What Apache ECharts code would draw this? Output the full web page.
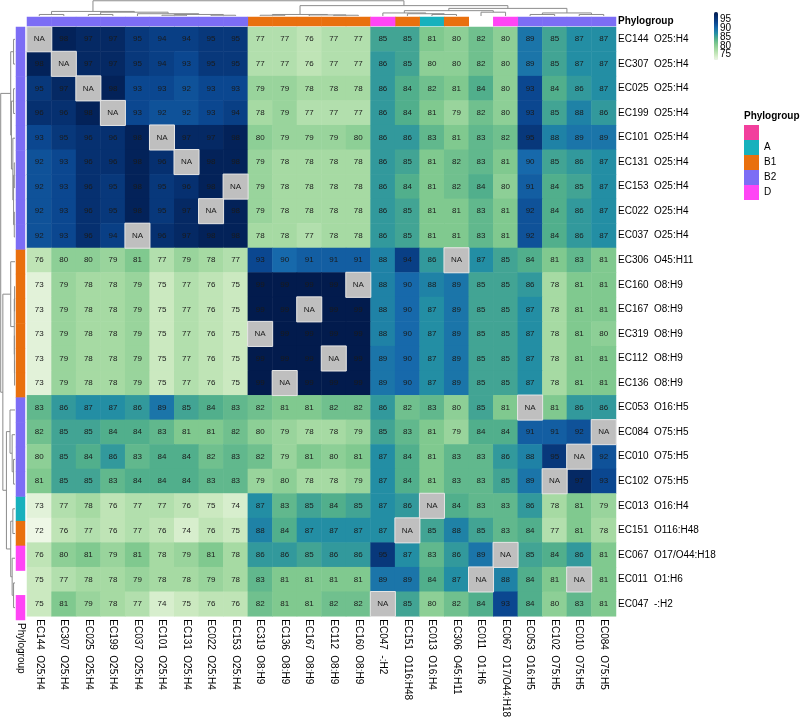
<!DOCTYPE html>
<html><head><meta charset="utf-8">
<script src="https://cdn.jsdelivr.net/npm/echarts@6/dist/echarts.min.js"></script>
<style>html,body{margin:0;padding:0;background:#fff}#c{width:800px;height:720px}</style>
</head><body><div id="c"></div>
<script>
const rowIds = ['EC144','EC307','EC025','EC199','EC101','EC131','EC153','EC022','EC037','EC306','EC160','EC167','EC319','EC112','EC136','EC053','EC084','EC010','EC102','EC013','EC151','EC067','EC011','EC047'];
const rowSero = ['O25:H4','O25:H4','O25:H4','O25:H4','O25:H4','O25:H4','O25:H4','O25:H4','O25:H4','O45:H11','O8:H9','O8:H9','O8:H9','O8:H9','O8:H9','O16:H5','O75:H5','O75:H5','O75:H5','O16:H4','O116:H48','O17/O44:H18','O1:H6','-:H2'];
const rowGroups = ['B2','B2','B2','B2','B2','B2','B2','B2','B2','B1','B1','B1','B1','B1','B1','B2','B2','B2','B2','A','B1','D',null,'D'];
const colIds = ['EC144','EC307','EC025','EC199','EC037','EC101','EC131','EC022','EC153','EC319','EC136','EC167','EC112','EC160','EC047','EC151','EC013','EC306','EC011','EC067','EC053','EC102','EC010','EC084'];
const colSero = ['O25:H4','O25:H4','O25:H4','O25:H4','O25:H4','O25:H4','O25:H4','O25:H4','O25:H4','O8:H9','O8:H9','O8:H9','O8:H9','O8:H9','-:H2','O116:H48','O16:H4','O45:H11','O1:H6','O17/O44:H18','O16:H5','O75:H5','O75:H5','O75:H5'];
const colGroups = ['B2','B2','B2','B2','B2','B2','B2','B2','B2','B1','B1','B1','B1','B1','D','B1','A','B1',null,'D','B2','B2','B2','B2'];
const groupNames = ['', 'A', 'B1', 'B2', 'D'];
const groupColors = ['#F23F9D', '#17B1BD', '#E9700E', '#7C6DF5', '#FF45F5'];
const colorbarTicks = [75, 80, 85, 90, 95];
const values = [
[null,98,97,97,95,94,94,95,95,77,77,76,77,77,85,85,81,80,82,80,89,85,87,87],
[98,null,97,97,95,94,93,95,95,77,77,76,77,77,86,85,80,80,82,80,89,85,87,87],
[95,97,null,98,93,93,92,93,93,79,79,78,78,78,86,84,82,81,84,80,93,84,86,87],
[96,96,98,null,93,92,92,93,94,78,79,77,77,77,86,84,81,79,82,80,93,85,88,86],
[93,95,96,96,98,null,97,97,98,80,79,79,79,80,86,86,83,81,83,82,95,88,89,89],
[92,93,96,96,98,96,null,98,98,79,78,78,78,78,86,85,81,82,83,81,90,85,86,87],
[92,93,96,95,98,95,96,98,null,79,78,78,78,78,86,84,81,82,84,80,91,84,85,87],
[92,93,96,95,98,95,97,null,98,79,78,78,78,78,86,85,81,81,83,81,92,84,86,87],
[92,93,96,94,null,96,97,98,98,78,78,77,78,78,86,85,81,81,83,81,92,84,86,87],
[76,80,80,79,81,77,79,78,77,93,90,91,91,91,88,94,86,null,87,85,84,81,83,81],
[73,79,78,78,79,75,77,76,75,99,99,99,99,null,88,90,88,89,85,85,86,78,81,81],
[73,79,78,78,79,75,77,76,75,99,99,null,99,99,88,90,87,89,85,85,87,78,81,81],
[73,79,78,78,79,75,77,76,75,null,99,99,99,99,88,90,87,89,85,85,87,78,81,80],
[73,79,78,78,79,75,77,76,75,99,99,99,null,99,89,90,87,89,85,85,87,78,81,81],
[73,79,78,78,79,75,77,76,75,99,null,99,99,99,89,90,87,89,85,85,87,78,81,81],
[83,86,87,87,86,89,85,84,83,82,81,81,82,82,86,82,83,80,85,81,null,81,86,86],
[82,85,85,84,84,83,81,81,82,80,79,78,78,79,85,83,81,79,84,84,91,91,92,null],
[80,85,84,86,83,84,84,82,83,82,79,81,80,81,87,84,81,83,83,86,88,95,null,92],
[81,85,85,83,84,84,84,83,83,79,80,78,78,79,87,84,81,83,83,85,89,null,97,93],
[73,77,78,76,77,77,76,75,74,87,83,85,84,85,87,86,null,84,83,83,86,78,81,79],
[72,76,77,76,77,76,74,76,75,88,84,87,87,87,87,null,85,88,85,83,84,77,81,78],
[76,80,81,79,81,78,79,81,78,86,86,85,86,86,95,87,83,86,89,null,85,84,86,81],
[75,77,78,78,79,78,78,79,78,83,81,81,81,81,89,89,84,87,null,88,84,81,null,81],
[75,81,79,78,77,74,75,76,76,82,81,81,82,82,null,85,80,82,84,93,84,80,83,81]
];
// dendrogram merges: [height, left, right]; leaves are column/row indices
const colTree = [1.0,
  [0.3, [0.1, 0, 1], [0.25, [0.1, 2, 3], [0.15, 4, [0.1, [0.05, 5, 6], [0.05, 7, 8]]]]],
  [0.68,
    [0.1, [0.05, 9, 10], [0.07, 11, [0.05, 12, 13]]],
    [0.5, [0.35, [0.2, 14, [0.15, 15, [0.1, 16, 17]]], [0.25, 18, 19]], [0.2, [0.1, 20, 21], [0.1, 22, 23]]]]];
const rowTree = [1.0,
  [0.3, [0.1, 0, 1], [0.25, [0.1, 2, 3], [0.15, 4, [0.1, [0.05, 5, 6], [0.05, 7, 8]]]]],
  [0.85,
    [0.3, 9, [0.05, [0.03, 10, 11], [0.04, 12, [0.03, 13, 14]]]],
    [0.6, [0.35, 15, [0.2, 16, [0.1, 17, 18]]], [0.3, [0.15, 19, 20], [0.2, 21, [0.1, 22, 23]]]]]];

function buildDendro(tree, segs) {
  if (typeof tree === 'number') return { p: tree + 0.5, h: 0 };
  const a = buildDendro(tree[1], segs), b = buildDendro(tree[2], segs);
  segs.push([a.p, a.h, b.p, b.h, tree[0]]);
  return { p: (a.p + b.p) / 2, h: tree[0] };
}
const colSegs = []; buildDendro(colTree, colSegs);
const rowSegs = []; buildDendro(rowTree, rowSegs);

const cellData = [], naData = [];
values.forEach((row, r) => row.forEach((v, c) => {
  if (v == null) naData.push([c, r, 0]); else cellData.push([c, r, v]);
}));

const FONT = 'Liberation Sans, Arial, sans-serif';
const rich = { id: { width: 36, fontSize: 10, fontFamily: FONT, color: '#000' }, s: { fontSize: 10, fontFamily: FONT, color: '#000' } };
const hidden = { axisLine: { show: false }, axisTick: { show: false }, axisLabel: { show: false }, splitLine: { show: false } };

const G = { left: 27, top: 27, width: 589, height: 593 };
const series = [];
series.push({
  type: 'heatmap', xAxisIndex: 0, yAxisIndex: 0, data: cellData,
  label: { show: true, fontSize: 8, color: '#1a1a1a', fontFamily: FONT, formatter: p => p.value[2] },
  emphasis: { disabled: true }
});
series.push({
  type: 'heatmap', xAxisIndex: 0, yAxisIndex: 0, data: naData,
  itemStyle: { color: '#bfbfbf', borderColor: '#e6e6e6', borderWidth: 1 },
  label: { show: true, fontSize: 8, color: '#1a1a1a', fontFamily: FONT, formatter: 'NA' },
  emphasis: { disabled: true }
});
groupNames.forEach((g, gi) => {
  const name = g === '' ? ' ' : g;
  series.push({
    type: 'heatmap', name: name, xAxisIndex: 1, yAxisIndex: 1,
    data: colGroups.map((cg, i) => cg === g ? [i, 0, 1] : null).filter(Boolean),
    itemStyle: { color: groupColors[gi] }, emphasis: { disabled: true }
  });
  series.push({
    type: 'heatmap', name: name, xAxisIndex: 2, yAxisIndex: 2,
    data: rowGroups.map((rg, i) => rg === g ? [0, i, 1] : null).filter(Boolean),
    itemStyle: { color: groupColors[gi] }, emphasis: { disabled: true }
  });
});
const lineStyle = { stroke: '#8c8c8c', lineWidth: 1, fill: null };
series.push({
  type: 'custom', xAxisIndex: 3, yAxisIndex: 3, data: colSegs, silent: true,
  renderItem: (params, api) => ({
    type: 'polyline', shape: { points: [
      api.coord([api.value(0), api.value(1)]), api.coord([api.value(0), api.value(4)]),
      api.coord([api.value(2), api.value(4)]), api.coord([api.value(2), api.value(3)])] },
    style: lineStyle
  })
});
series.push({
  type: 'custom', xAxisIndex: 4, yAxisIndex: 4, data: rowSegs, silent: true,
  renderItem: (params, api) => ({
    type: 'polyline', shape: { points: [
      api.coord([api.value(1), api.value(0)]), api.coord([api.value(4), api.value(0)]),
      api.coord([api.value(4), api.value(2)]), api.coord([api.value(3), api.value(2)])] },
    style: lineStyle
  })
});

const option = {
  animation: false,
  textStyle: { fontFamily: FONT },
  title: { text: 'Phylogroup', left: 744, top: 111, padding: 0, textStyle: { fontSize: 10, fontWeight: 'bold', color: '#000', fontFamily: FONT } },
  legend: {
    data: groupNames.map(g => g === '' ? ' ' : g), orient: 'vertical', left: 744, top: 125, padding: 0,
    itemWidth: 15, itemHeight: 15, itemGap: 0, icon: 'rect', selectedMode: false,
    textStyle: { fontSize: 10, color: '#000', fontFamily: FONT }
  },
  visualMap: {
    type: 'continuous', seriesIndex: 0, min: 72, max: 99, calculable: false,
    left: 714, top: 12, itemWidth: 4, itemHeight: 48, padding: 0, text: null,
    inRange: { color: ['#eef7e6', '#cbe9c0', '#a6daa3', '#80c98f', '#51af8c', '#238ea4', '#1769ab', '#0b4790', '#063070', '#021b4d'] }
  },
  grid: [
    G,
    { left: 27, top: 17, width: 589, height: 9 },
    { left: 16, top: 27, width: 9, height: 593 },
    { left: 27, top: 0, width: 589, height: 16 },
    { left: 0, top: 27, width: 15, height: 593 },
    { left: 714, top: 12, width: 4, height: 48 }
  ],
  xAxis: [
    { gridIndex: 0, type: 'category', data: colIds, position: 'bottom', axisLine: { show: false }, axisTick: { show: false }, splitLine: { show: false },
      axisLabel: { interval: 0, rotate: -90, margin: 3, formatter: (v, i) => `{id|${v}}{s|${colSero[i]}}`, rich: rich } },
    { gridIndex: 1, type: 'category', data: colIds, ...hidden },
    { gridIndex: 2, type: 'category', data: ['Phylogroup'], position: 'bottom', axisLine: { show: false }, axisTick: { show: false },
      axisLabel: { interval: 0, rotate: -90, margin: 3, fontSize: 10, color: '#000', fontFamily: FONT } },
    { gridIndex: 3, type: 'value', min: 0, max: 24, ...hidden },
    { gridIndex: 4, type: 'value', min: 0, max: 1.05, inverse: true, ...hidden },
    { gridIndex: 5, type: 'value', min: 0, max: 1, ...hidden }
  ],
  yAxis: [
    { gridIndex: 0, type: 'category', data: rowIds, inverse: true, position: 'right', axisLine: { show: false }, axisTick: { show: false }, splitLine: { show: false },
      axisLabel: { interval: 0, margin: 2, formatter: (v, i) => `{id|${v}}{s|${rowSero[i]}}`, rich: rich } },
    { gridIndex: 1, type: 'category', data: ['Phylogroup'], position: 'right', axisLine: { show: false }, axisTick: { show: false },
      axisLabel: { margin: 2, fontSize: 10, fontWeight: 'bold', color: '#000', fontFamily: FONT } },
    { gridIndex: 2, type: 'category', data: rowIds, inverse: true, ...hidden },
    { gridIndex: 3, type: 'value', min: 0, max: 1.05, ...hidden },
    { gridIndex: 4, type: 'value', min: 0, max: 24, inverse: true, ...hidden },
    { gridIndex: 5, type: 'value', min: 72, max: 99, ...hidden }
  ],
  series: series
};
const chart = echarts.init(document.getElementById('c'), null, { renderer: 'canvas' });
chart.setOption(option);
// colour-bar tick labels, placed through the colour-bar axis scale
chart.setOption({
  graphic: colorbarTicks.map(v => {
    const p = chart.convertToPixel({ xAxisIndex: 5, yAxisIndex: 5 }, [1, v]);
    return { type: 'text', x: p[0] + 2, y: p[1], silent: true,
      style: { text: String(v), fontSize: 10, fontFamily: FONT, fill: '#000', textAlign: 'left', textVerticalAlign: 'middle' } };
  })
});
</script></body></html>
